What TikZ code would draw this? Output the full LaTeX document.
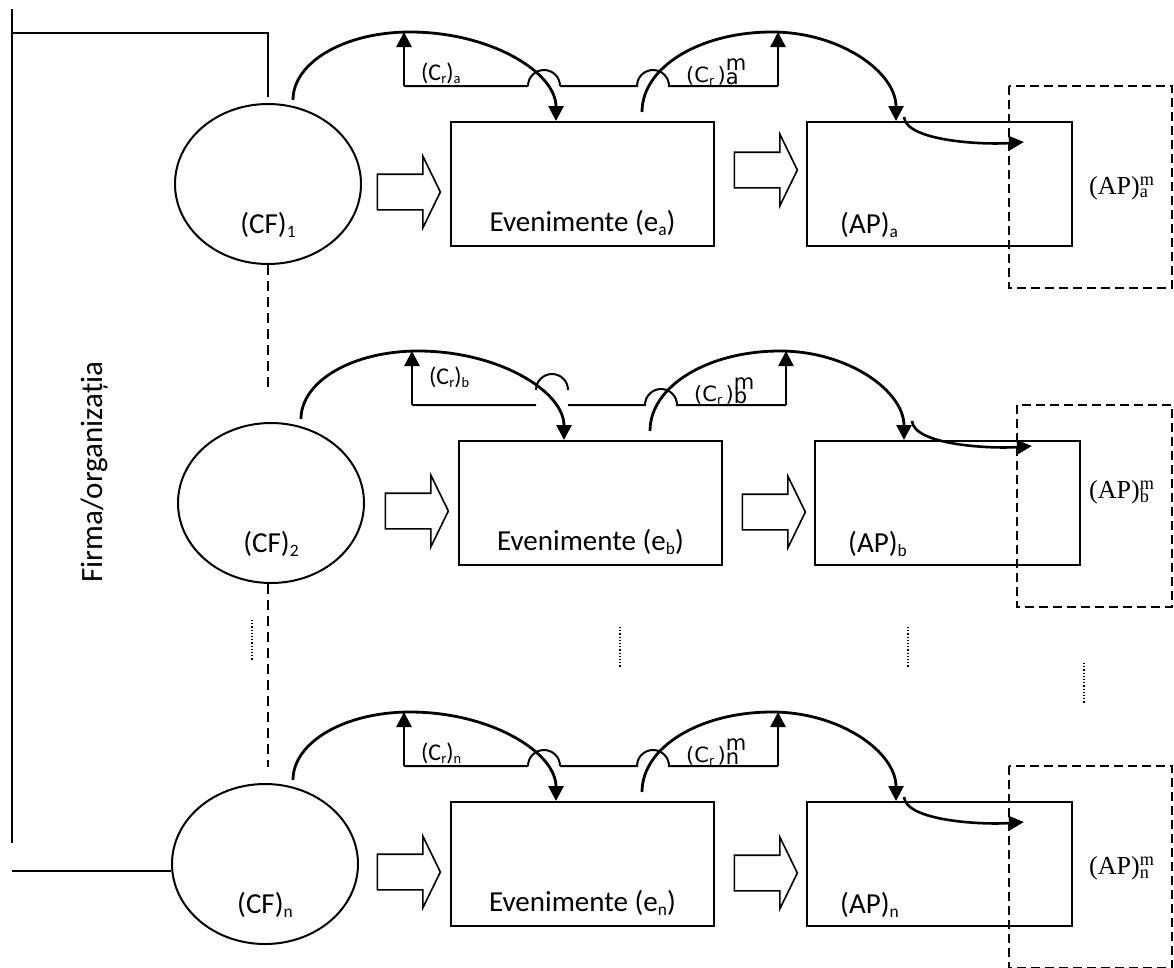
\documentclass[tikz,border=0pt]{standalone}
\usepackage{fontspec}
\usepackage{graphicx}
\setmainfont{Carlito}
\newfontfamily\crfont{DejaVu Sans}
\newfontfamily\apfont{Liberation Serif}
\usetikzlibrary{arrows.meta,shapes.geometric,shapes.arrows}

\newcommand{\lowi}[1]{\raisebox{-.14em}{\scalebox{.6}{#1}}}

\tikzset{
  lbl/.style={font=\fontsize{29}{34}\selectfont,inner sep=0pt},
  crlbl/.style={font=\fontsize{24}{28}\selectfont,inner sep=0pt},
  crmlbl/.style={font=\crfont\fontsize{21}{25}\selectfont,inner sep=0pt},
  apmlbl/.style={font=\apfont\fontsize{26}{30}\selectfont,inner sep=0pt},
  cfell/.style={draw,ellipse,line width=2pt,minimum width=186pt,minimum height=160pt,inner sep=0pt},
  box/.style={draw,line width=2pt,minimum width=263pt,minimum height=124pt,inner sep=0pt},
  apbox/.style={box,minimum width=265pt},
  bigarrow/.style={single arrow,draw,line width=1.6pt,inner sep=0pt,minimum height=63pt,
    text height=17pt,text depth=17pt,single arrow head extend=18pt,single arrow tip angle=128},
  dbox/.style={line width=1.8pt,dash pattern=on 9pt off 5pt},
  dline/.style={line width=2pt,dash pattern=on 10pt off 6pt},
  dotline/.style={line width=1.2pt,dash pattern=on 1.2pt off 2pt},
  frame/.style={line width=2pt},
  hop/.style={line width=2pt},
  vflow/.style={line width=2.6pt,-{Triangle[length=15pt,width=15pt]}},
  arcflow/.style={line width=2.8pt,-{Triangle[length=15pt,width=15pt]}},
  smallflow/.style={line width=2.6pt,-{Triangle[length=15pt,width=14pt]}}
}

\begin{document}
\begin{tikzpicture}[x=1pt,y=-1pt]
  \useasboundingbox (0,0) rectangle (1174,967);
  \clip (0,0) rectangle (1174,967);

  % one row per group: a, b, n
  \foreach \r/\c/\dx/\dy/\ex/\ay/\up in {a/1/0/0/268/170/0, b/2/8/319/263/193/15, n/n/0/680/265/193/0}{
    \begin{scope}[shift={(\dx,\dy)}]
      \node[cfell] (cf\r) at (\ex,184) {};
      \node[lbl,anchor=base] (cft\r) at ([yshift=-49pt]cf\r.center) {(CF)\lowi{\c}};
      \node[bigarrow] (ha\r) at (404.5,192) {};
      \node[box] (ev\r) at (582.5,184) {};
      \node[lbl,anchor=base] (evt\r) at ([yshift=16pt]ev\r.south) {Evenimente (e\lowi{\r})};
      \node[bigarrow] (hb\r) at (761.5,\ay) {};
      \node[apbox] (ap\r) at (939.5,184) {};
      \node[lbl,anchor=base west] (apt\r) at ([shift={(34pt,14pt)}]ap\r.south west) {(AP)\lowi{\r}};
      \draw[dbox] (1009,86) rectangle (1172-\dx,288);
      \node[apmlbl,anchor=west] (apm\r) at (1089-\dx,188-\up) {(AP)\rlap{\textsuperscript{m}}\textsubscript{\r}};

      % reaction line with hops
      \coordinate (hl\r) at (404,86);
      \coordinate (hr\r) at (778,86);
      \coordinate (tl\r) at (404,32);
      \coordinate (tr\r) at (778,32);
      \draw[hop] (hl\r) -- (528,86) ++(0,-\up) arc[start angle=180,end angle=0,radius=16pt]
        ++(0,\up) -- (637,86) arc[start angle=180,end angle=0,radius=16pt] -- (hr\r);
      \draw[vflow] (hl\r) -- (tl\r);
      \draw[vflow] (hr\r) -- (tr\r);
      \node[crlbl,anchor=west] (cr\r) at (421,73-\up) {(C\lowi{r})\lowi{\r}};
      \node[crmlbl,anchor=west] (crm\r) at (686,72) {(C\lowi{r}\,)\rlap{\raisebox{.58em}{m}}\raisebox{-.1em}{\r}};

      % arcs
      \coordinate (s1\r) at (293,100);
      \coordinate (k1\r) at (410,32);
      \coordinate (s2\r) at ([xshift=59.5pt,yshift=9pt]ev\r.north);
      \coordinate (k2\r) at (772,32);
      \draw[arcflow] (s1\r) .. controls +(0,-38) and +(-65,0) .. (k1\r)
        .. controls +(80,0) and +(0,-49) .. ([xshift=-26.5pt]ev\r.north);
      \draw[arcflow] (s2\r) .. controls +(0,-45) and +(-72,0) .. (k2\r)
        .. controls +(68,0) and +(0,-49) .. ([xshift=-43.5pt]ap\r.north);
      \coordinate (sa\r) at (904,117-\up);
      \coordinate (se\r) at (1024,142-\up);
      \draw[smallflow] (sa\r) .. controls +(2,24) and +(-42,3) .. (se\r);
    \end{scope}
  }

  % firm bracket
  \coordinate (ot) at (12,9);
  \coordinate (ob) at (12,843);
  \coordinate (oc) at (12,33);
  \coordinate (od) at (268,97);
  \coordinate (obl) at (12,871);
  \draw[frame] (ot) -- (ob);
  \draw[frame] (oc) -- (oc -| od) -- (od);
  \draw[frame] (obl) -- (obl -| cfn.west);
  \node[lbl,rotate=90,font=\fontsize{31}{36}\selectfont] (org) at (95,472) {Firma/organizația};

  % dashed links between groups
  \coordinate (da) at (268,393);
  \coordinate (db) at (268,767);
  \draw[dline] (cfa.south) -- (da);
  \draw[dline] (cfb.south -| da) -- (db);

  % dotted marks
  \foreach \x/\ya/\yb in {252/620/660, 620/627/667, 908/627/667, 1084/663/703}{
    \draw[dotline] (\x,\ya) -- (\x,\yb);
  }
\end{tikzpicture}
\end{document}
